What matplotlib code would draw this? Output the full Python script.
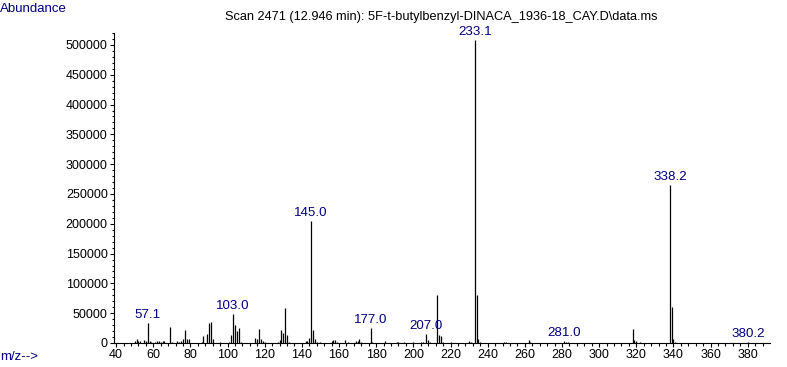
import matplotlib
matplotlib.use("Agg")
import matplotlib.pyplot as plt
from matplotlib.ticker import MultipleLocator

plt.rcParams['font.family'] = ['Liberation Sans', 'DejaVu Sans']

# peak list (m/z, abundance)
mz = [50, 51, 52, 53, 55, 56, 57.1, 58, 59, 61, 62, 63, 64, 65, 66, 69, 70,
      73, 74, 75, 76, 77, 78, 79, 86, 87, 89, 90, 91, 92, 96,
      101, 102, 103.0, 104, 105, 106, 107, 115, 116, 117, 118, 119, 120,
      127, 128, 129, 130, 131, 132, 133, 142, 143, 144, 145.0, 146, 147, 148, 150,
      156, 157, 158, 159, 163, 165, 169, 170, 171, 172, 177.0, 178, 185,
      191, 192, 195, 200, 204, 205, 207.0, 208, 209, 213, 214, 215, 216, 220,
      230, 231, 233.1, 234, 235, 236, 249, 250, 262, 263, 281.0, 282, 283,
      318, 319, 320, 322, 338.2, 339, 340, 341, 380.2]
abundance = [3400, 6100, 3400, 2800, 5000, 3400, 34000, 2800, 2000, 2000, 2800, 3400, 2500, 3400, 3400, 26300, 2000,
             3400, 2500, 3400, 6100, 21200, 6100, 6100, 2000, 11200, 14500, 33500, 35200, 6100, 2000,
             2500, 12800, 49000, 29600, 19600, 25200, 2500, 7800, 6700, 23000, 6100, 2800, 2000,
             2500, 5600, 21000, 16800, 58000, 12800, 2500, 3400, 3400, 7800, 204000, 21200, 6100, 2500, 2000,
             2800, 5600, 5600, 2500, 5000, 2500, 3400, 3400, 6100, 2500, 24600, 2500, 4000,
             2500, 2000, 2000, 2000, 2500, 2500, 15100, 5000, 2000, 81000, 12800, 11700, 2500, 2000,
             3400, 2500, 508000, 80000, 6100, 2000, 2500, 2500, 4500, 2500, 3400, 2000, 2000,
             22900, 4500, 3400, 2000, 265500, 60400, 6100, 2500, 2000]
labelled = [57.1, 103.0, 145.0, 177.0, 207.0, 233.1, 281.0, 338.2, 380.2]

title = "Scan 2471 (12.946 min): 5F-t-butylbenzyl-DINACA_1936-18_CAY.D\\data.ms"
blue = '#000080'

fig = plt.figure(figsize=(7.87, 3.67), dpi=100)
ax = fig.add_axes([0.1449, 0.0654, 0.978 - 0.1449, 0.910 - 0.0654])

ax.vlines(mz, 0, abundance, color='black', lw=0.9)

for m in labelled:
    a = abundance[mz.index(m)]
    ax.annotate(f"{m:.1f}", (m, a), xytext=(0, 1.5), textcoords='offset points',
                ha='center', va='bottom', color=blue, fontsize=9.6)

ax.set_xlim(38.9, 391.8)
ax.set_ylim(0, 520000)
ax.xaxis.set_major_locator(MultipleLocator(20))
ax.xaxis.set_minor_locator(MultipleLocator(4))
ax.yaxis.set_major_locator(MultipleLocator(50000))
ax.yaxis.set_minor_locator(MultipleLocator(10000))
ax.tick_params(which='major', direction='out', length=3, width=0.8, pad=1.5, labelsize=9)
ax.tick_params(which='minor', direction='out', length=1.8, width=0.8)
for s in ['top', 'right']:
    ax.spines[s].set_visible(False)
for s in ['left', 'bottom']:
    ax.spines[s].set_linewidth(0.8)

fig.text(0.0, 1 - 9 / 367, "Abundance", color=blue, fontsize=9.5, ha='left', va='center')
fig.text(0.0, 1 - 357 / 367, "m/z-->", color=blue, fontsize=9.5, ha='left', va='center')
fig.text(441 / 787, 1 - 17 / 367, title, color='black', fontsize=9.2, ha='center', va='center')

fig.savefig("out.png", dpi=100)
